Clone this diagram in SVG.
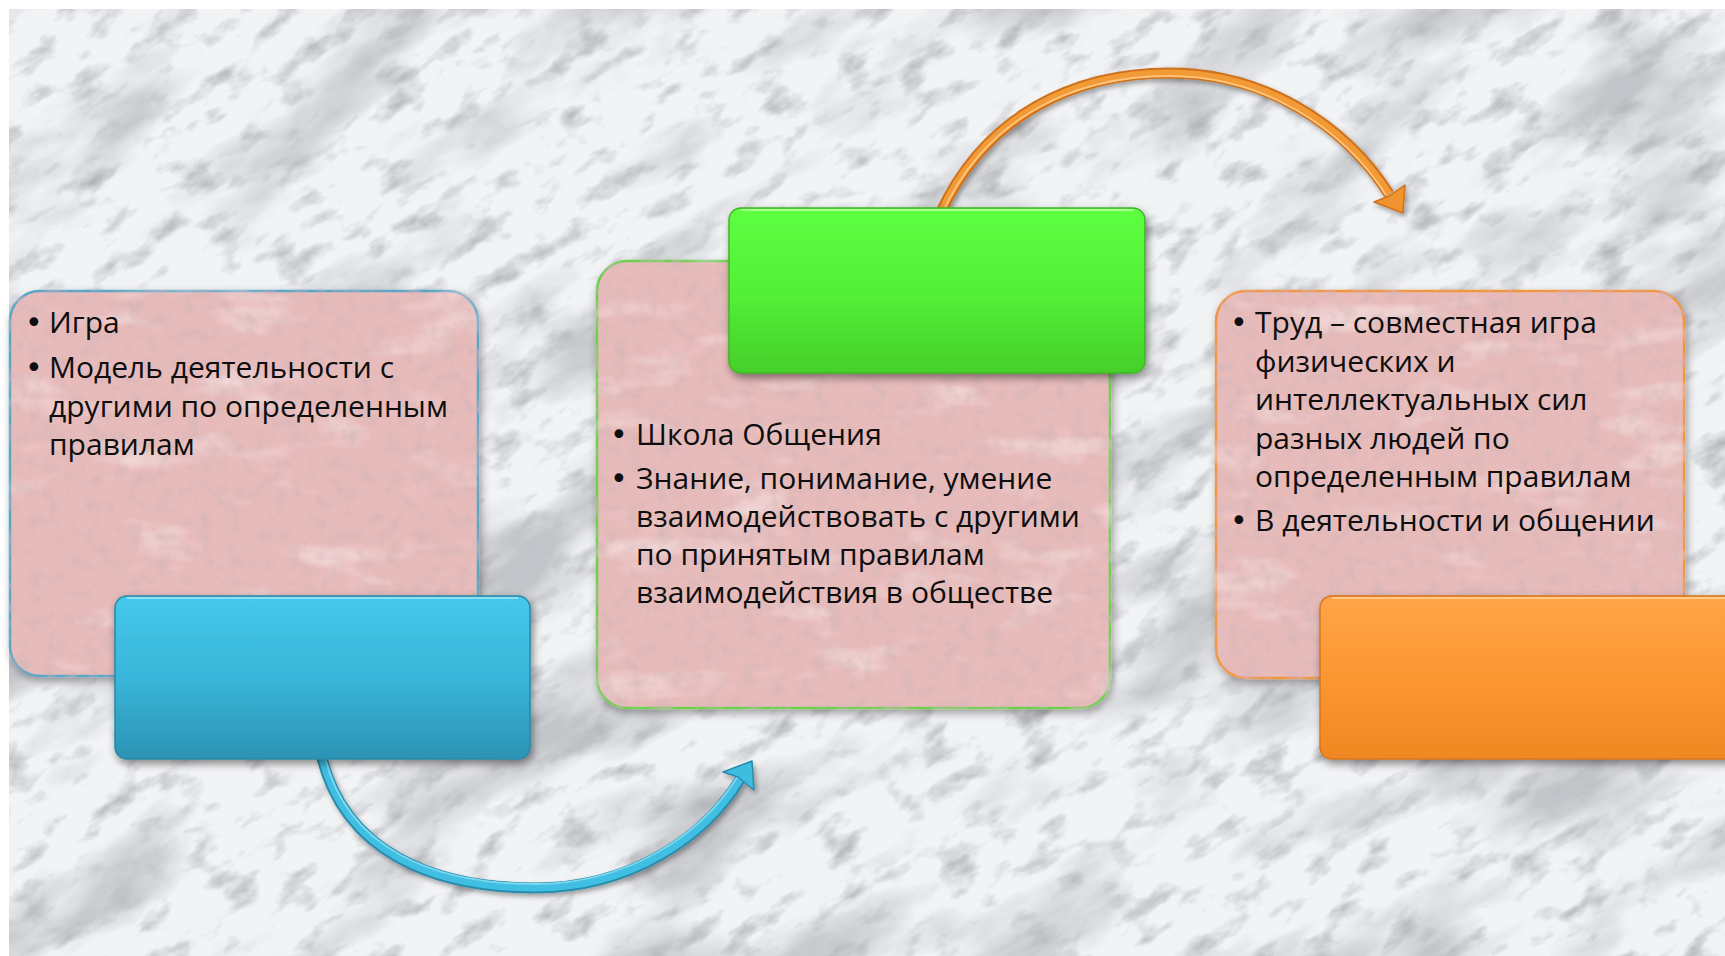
<svg xmlns="http://www.w3.org/2000/svg" width="1725" height="956" viewBox="0 0 1725 956">
<defs>
<style>
.t{font-family:"Open Sans","Noto Sans","DejaVu Sans",sans-serif;font-size:30px;fill:#0e0e0e;}
.b{font-family:"DejaVu Sans","Noto Sans",sans-serif;font-size:30px;fill:#0e0e0e;}
.pk{fill:#e8bbbb;stroke-width:2.5;}
</style>
<clipPath id="bgclip"><rect x="9" y="9" width="1716" height="947"/></clipPath>
<filter id="marble" filterUnits="userSpaceOnUse" x="-800" y="-800" width="3400" height="2600">
<feTurbulence type="fractalNoise" baseFrequency="0.005 0.012" numOctaves="5" seed="11"/>
<feColorMatrix type="matrix" values="0 0 0 0 0.55 0 0 0 0 0.56 0 0 0 0 0.59 -3 0 0 0 1.55"/>
</filter>
<filter id="marble2" filterUnits="userSpaceOnUse" x="-800" y="-800" width="3400" height="2600">
<feTurbulence type="fractalNoise" baseFrequency="0.022 0.045" numOctaves="4" seed="4"/>
<feColorMatrix type="matrix" values="0 0 0 0 0.45 0 0 0 0 0.46 0 0 0 0 0.49 -2.6 0 0 0 1.22"/>
</filter>
<filter id="paper" x="-5%" y="-5%" width="115%" height="120%">
<feTurbulence type="fractalNoise" baseFrequency="0.07" numOctaves="3" seed="3" result="n"/>
<feColorMatrix in="n" type="matrix" values="0 0 0 0 0.62 0 0 0 0 0.45 0 0 0 0 0.46 0 0 0 -1.2 0.7" result="sp"/>
<feComposite in="sp" in2="SourceAlpha" operator="in" result="spc"/>
<feTurbulence type="fractalNoise" baseFrequency="0.01 0.03" numOctaves="3" seed="9" result="n2"/>
<feColorMatrix in="n2" type="matrix" values="0 0 0 0 1 0 0 0 0 0.95 0 0 0 0 0.95 1.4 0 0 0 -0.8" result="wt"/>
<feComposite in="wt" in2="SourceAlpha" operator="in" result="wtc"/>
<feGaussianBlur in="SourceAlpha" stdDeviation="4" result="bl"/>
<feOffset in="bl" dx="2" dy="4" result="of"/>
<feFlood flood-color="#000" flood-opacity="0.35"/>
<feComposite in2="of" operator="in" result="sh"/>
<feMerge><feMergeNode in="sh"/><feMergeNode in="SourceGraphic"/><feMergeNode in="wtc"/><feMergeNode in="spc"/></feMerge>
</filter>
<filter id="sh" x="-10%" y="-10%" width="125%" height="135%">
<feDropShadow dx="2" dy="4" stdDeviation="4" flood-color="#000" flood-opacity="0.45"/>
</filter>
<filter id="ash" x="-10%" y="-20%" width="125%" height="150%">
<feDropShadow dx="2" dy="3" stdDeviation="2.5" flood-color="#000" flood-opacity="0.35"/>
</filter>
<linearGradient id="gBlue" x1="0" y1="0" x2="0" y2="1">
<stop offset="0" stop-color="#45c8ea"/><stop offset="0.5" stop-color="#38b6d9"/><stop offset="1" stop-color="#2c93b4"/>
</linearGradient>
<linearGradient id="gGreen" x1="0" y1="0" x2="0" y2="1">
<stop offset="0" stop-color="#5eff42"/><stop offset="0.55" stop-color="#52ee36"/><stop offset="1" stop-color="#45cf2a"/>
</linearGradient>
<linearGradient id="gOrange" x1="0" y1="0" x2="0" y2="1">
<stop offset="0" stop-color="#ffa547"/><stop offset="0.55" stop-color="#fb952f"/><stop offset="1" stop-color="#f08722"/>
</linearGradient>
</defs>

<rect x="0" y="0" width="1725" height="956" fill="#ffffff"/>
<g id="background" clip-path="url(#bgclip)">
<rect x="9" y="9" width="1716" height="947" fill="#f2f3f5"/>
<g transform="rotate(-30 862 478)">
<rect x="-400" y="-400" width="2600" height="1800" filter="url(#marble)"/>
<rect x="-400" y="-400" width="2600" height="1800" filter="url(#marble2)"/>
</g>
</g>

<g id="connectors">
<g id="arrow-blue" filter="url(#ash)">
<path d="M322,758 C345,850 430,888 535,888 C630,888 705,838 741,778" fill="none" stroke="#2a8cad" stroke-width="11"/>
<path d="M322,758 C345,850 430,888 535,888 C630,888 705,838 741,778" fill="none" stroke="#3fbfe2" stroke-width="7"/>
<path d="M325,757 C347,847 431,884 535,884 C627,884 701,836 738,776" fill="none" stroke="#7ad9f0" stroke-width="2"/>
<polygon points="752,761 723,772 738,777 754,790" fill="#3cbde0" stroke="#2a8cad" stroke-width="1.5" stroke-linejoin="round"/>
</g>
<g id="arrow-orange" filter="url(#ash)">
<path d="M940,214 C985,115 1075,73 1169,73 C1265,73 1345,125 1389,194" fill="none" stroke="#cf711b" stroke-width="11"/>
<path d="M940,214 C985,115 1075,73 1169,73 C1265,73 1345,125 1389,194" fill="none" stroke="#f29a36" stroke-width="7"/>
<path d="M943,212 C987,116 1076,76 1169,76 C1263,76 1342,127 1386,195" fill="none" stroke="#ffc47a" stroke-width="2"/>
<polygon points="1403,213 1374,202 1389,196 1405,185" fill="#f0922e" stroke="#cf711b" stroke-width="1.5" stroke-linejoin="round"/>
</g>
</g>

<g id="node1">
<rect class="pk" x="10" y="291" width="468" height="385" rx="30" stroke="#58a6c6" filter="url(#paper)"/>
<text class="b" x="25" y="333">•</text><text class="t" x="49" y="333">Игра</text>
<text class="b" x="25" y="378">•</text><text class="t" x="49" y="378">Модель деятельности с</text>
<text class="t" x="49" y="417">другими по определенным</text>
<text class="t" x="49" y="455">правилам</text>
</g>
<g id="node1-head">
<rect x="115" y="596" width="415" height="163" rx="12" fill="url(#gBlue)" stroke="#2a88a6" stroke-width="1.5" filter="url(#sh)"/>
<path d="M127,598 H518" stroke="#8ee0f4" stroke-width="2" fill="none"/>
</g>

<g id="node2">
<rect class="pk" x="597" y="261" width="513" height="447" rx="30" stroke="#6cd04c" filter="url(#paper)"/>
<text class="b" x="610" y="445">•</text><text class="t" x="636" y="445">Школа Общения</text>
<text class="b" x="610" y="489">•</text><text class="t" x="636" y="489">Знание, понимание, умение</text>
<text class="t" x="636" y="527">взаимодействовать с другими</text>
<text class="t" x="636" y="565">по принятым правилам</text>
<text class="t" x="636" y="603">взаимодействия в обществе</text>
</g>
<g id="node2-head">
<rect x="729" y="208" width="416" height="165" rx="12" fill="url(#gGreen)" stroke="#3fb625" stroke-width="1.5" filter="url(#sh)"/>
<path d="M741,210 H1133" stroke="#a6ff90" stroke-width="2" fill="none"/>
</g>

<g id="node3">
<rect class="pk" x="1216" y="291" width="468" height="387" rx="30" stroke="#f0963c" filter="url(#paper)"/>
<text class="b" x="1230" y="333">•</text><text class="t" x="1255" y="333">Труд – совместная игра</text>
<text class="t" x="1255" y="372">физических и</text>
<text class="t" x="1255" y="410">интеллектуальных сил</text>
<text class="t" x="1255" y="449">разных людей по</text>
<text class="t" x="1255" y="487">определенным правилам</text>
<text class="b" x="1230" y="531">•</text><text class="t" x="1255" y="531">В деятельности и общении</text>
</g>
<g id="node3-head">
<rect x="1320" y="596" width="430" height="163" rx="12" fill="url(#gOrange)" stroke="#d7761c" stroke-width="1.5" filter="url(#sh)"/>
<path d="M1332,598 H1725" stroke="#ffc98a" stroke-width="2" fill="none"/>
</g>
</svg>
